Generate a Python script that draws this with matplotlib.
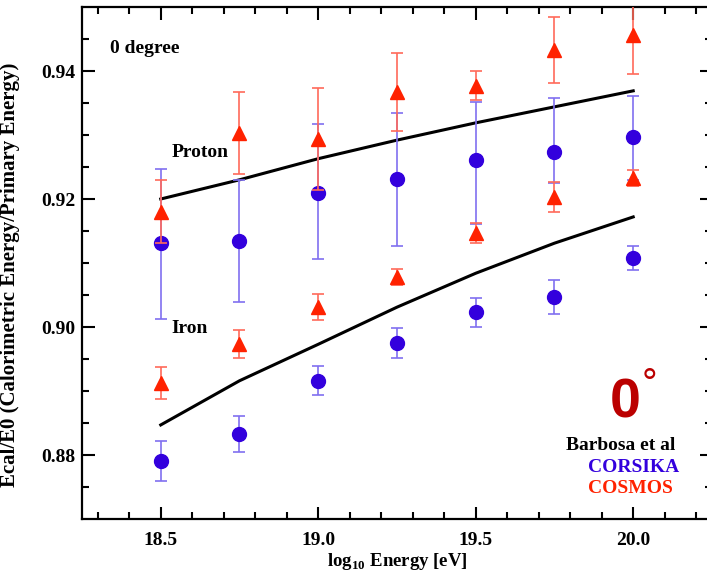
import matplotlib.pyplot as plt
import numpy as np

plt.rcParams['font.family'] = ['Liberation Serif', 'DejaVu Serif']
plt.rcParams['font.weight'] = 'bold'
plt.rcParams['mathtext.fontset'] = 'custom'
plt.rcParams['mathtext.bf'] = 'Liberation Serif:bold'
plt.rcParams['mathtext.rm'] = 'Liberation Serif:bold'

# Daten
energy = [18.5, 18.75, 19.0, 19.25, 19.5, 19.75, 20.0]

# CORSIKA (blau)
cors_p = [0.9131, 0.9134, 0.9210, 0.9231, 0.9261, 0.9273, 0.9297]
cors_p_lo = [0.0118, 0.0095, 0.0104, 0.0104, 0.0100, 0.0048, 0.0067]
cors_p_hi = [0.0116, 0.0096, 0.0107, 0.0103, 0.0091, 0.0085, 0.0064]
cors_fe = [0.8791, 0.8833, 0.8916, 0.8975, 0.9023, 0.9047, 0.9108]
cors_fe_err = [0.0031, 0.0028, 0.0023, 0.0024, 0.0023, 0.0026, 0.0019]

# COSMOS (rot)
cosm_p = [0.9180, 0.9303, 0.9294, 0.9367, 0.9377, 0.9433, 0.9456]
cosm_p_err = [0.0049, 0.0064, 0.0080, 0.0061, 0.0023, 0.0051, 0.0061]
cosm_fe = [0.8913, 0.8973, 0.9031, 0.9078, 0.9147, 0.9203, 0.9233]
cosm_fe_err = [0.0025, 0.0022, 0.0020, 0.0012, 0.0016, 0.0024, 0.0013]

# Linien (Proton / Eisen)
line_p = [0.9200, 0.9230, 0.9263, 0.9292, 0.9319, 0.9344, 0.9369]
line_fe = [0.8847, 0.8916, 0.8973, 0.9031, 0.9084, 0.9131, 0.9172]

fig = plt.figure(figsize=(7.07, 5.74), dpi=100)
ax = fig.add_axes([0.116, 0.0958, 0.891, 0.892])

blue = '#3300dd'
red = '#ff2200'

ax.plot(energy, line_p, color='black', lw=2.2, zorder=2)
ax.plot(energy, line_fe, color='black', lw=2.2, zorder=2)

ax.errorbar(energy, cors_p, yerr=[cors_p_lo, cors_p_hi], fmt='o', color=blue, ms=10,
            ecolor='#8070f0', elinewidth=1.2, capsize=4, capthick=1.2, zorder=3)
ax.errorbar(energy, cors_fe, yerr=cors_fe_err, fmt='o', color=blue, ms=10,
            ecolor='#8070f0', elinewidth=1.2, capsize=4, capthick=1.2, zorder=3)
ax.errorbar(energy, cosm_p, yerr=cosm_p_err, fmt='^', color=red, ms=10,
            ecolor='#ff6a5a', elinewidth=1.2, capsize=4, capthick=1.2, zorder=4)
ax.errorbar(energy, cosm_fe, yerr=cosm_fe_err, fmt='^', color=red, ms=10,
            ecolor='#ff6a5a', elinewidth=1.2, capsize=4, capthick=1.2, zorder=4)

ax.set_xlim(18.25, 20.25)
ax.set_ylim(0.87, 0.95)
ax.set_xticks([18.5, 19.0, 19.5, 20.0])
ax.set_xticklabels(['18.5', '19.0', '19.5', '20.0'])
ax.set_xticks(np.arange(18.3, 20.25, 0.1), minor=True)
ax.set_yticks([0.88, 0.90, 0.92, 0.94])
ax.set_yticklabels(['0.88', '0.90', '0.92', '0.94'])
ax.set_yticks(np.arange(0.875, 0.95, 0.005), minor=True)
ax.tick_params(which='both', direction='in', top=True, right=True, labelsize=14, width=1.5)
ax.tick_params(which='major', length=9)
ax.tick_params(which='minor', length=5)
ax.tick_params(axis='x', which='major', pad=9)
ax.tick_params(axis='y', which='major', pad=5)
for s in ax.spines.values():
    s.set_linewidth(1.6)

ax.set_xlabel('log$_{10}$ Energy [eV]', fontsize=13.5, fontweight='bold', labelpad=2)
ax.set_ylabel('Ecal/E0 (Calorimetric Energy/Primary Energy)', fontsize=15, fontweight='bold')
ax.yaxis.set_label_coords(-0.098, 0.477)

ax.text(18.339, 0.9428, '0 degree', fontsize=14, fontweight='bold')
ax.text(18.535, 0.9266, 'Proton', fontsize=14, fontweight='bold')
ax.text(18.535, 0.8991, 'Iron', fontsize=14, fontweight='bold')
ax.text(19.927, 0.8858, '0', fontsize=40, fontweight='bold', color='#bb0000',
        family='Liberation Sans')
ax.text(20.027, 0.8937, '°', fontsize=28, color='#bb0000', va='top',
        family='Liberation Sans', fontweight='normal')
ax.text(20.133, 0.8808, 'Barbosa et al', fontsize=14, fontweight='bold', ha='right')
ax.text(20.146, 0.8773, 'CORSIKA', fontsize=14, fontweight='bold', ha='right', color=blue)
ax.text(20.127, 0.8741, 'COSMOS', fontsize=14, fontweight='bold', ha='right', color=red)

fig.savefig('out.png', dpi=100)
